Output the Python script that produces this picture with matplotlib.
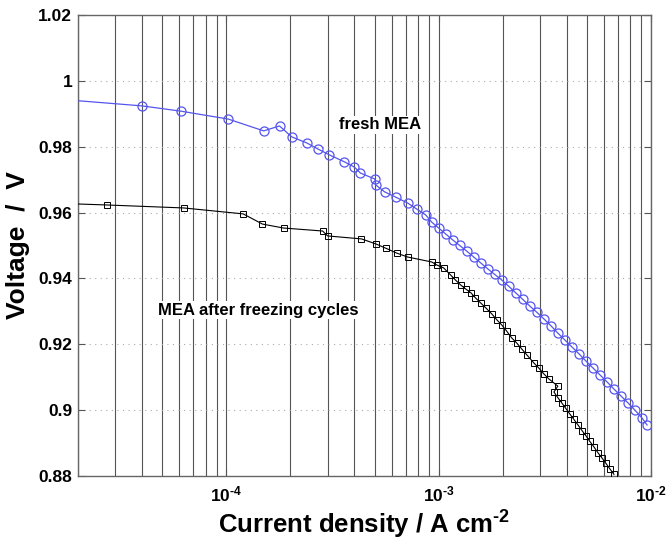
import numpy as np
import matplotlib
matplotlib.use("Agg")
import matplotlib.pyplot as plt
from matplotlib.ticker import FixedLocator, FuncFormatter, LogLocator, NullFormatter

plt.rcParams['font.family'] = ['Liberation Sans', 'DejaVu Sans']
plt.rcParams['mathtext.fontset'] = 'custom'
plt.rcParams['mathtext.rm'] = 'Liberation Sans:bold'
plt.rcParams['mathtext.bf'] = 'Liberation Sans:bold'

# fresh MEA (blue circles)
fresh_j = [1.8e-5, 4.0e-5, 6.1e-5, 1.02e-4, 1.5e-4, 1.78e-4, 2.03e-4, 2.4e-4, 2.7e-4, 3.06e-4,
           3.6e-4, 4.01e-4, 4.28e-4, 5.0e-4, 5.05e-4, 5.56e-4, 6.27e-4, 7.14e-4, 7.87e-4, 8.68e-4, 9.27e-4,
           1.000e-3, 1.079e-3, 1.164e-3, 1.256e-3, 1.355e-3, 1.462e-3, 1.578e-3, 1.703e-3, 1.837e-3,
           1.982e-3, 2.139e-3, 2.308e-3, 2.491e-3, 2.688e-3, 2.900e-3, 3.13e-3, 3.38e-3, 3.64e-3,
           3.93e-3, 4.24e-3, 4.58e-3, 4.94e-3, 5.33e-3, 5.75e-3, 6.20e-3, 6.69e-3, 7.22e-3, 7.79e-3,
           8.40e-3, 9.07e-3, 9.58e-3]
fresh_v = [0.9942, 0.9924, 0.9908, 0.9884, 0.9848, 0.9863, 0.9830, 0.9811, 0.9793, 0.9775,
           0.9754, 0.9738, 0.9720, 0.9702, 0.9684, 0.9663, 0.9647, 0.9629, 0.9611, 0.9593, 0.9571,
           0.9553, 0.9535, 0.9517, 0.9500, 0.9483, 0.9465, 0.9447, 0.9429, 0.9412,
           0.9395, 0.9376, 0.9356, 0.9336, 0.9316, 0.9297, 0.9277, 0.9256, 0.9234,
           0.9213, 0.9192, 0.9171, 0.9149, 0.9128, 0.9107, 0.9086, 0.9064, 0.9043, 0.9022,
           0.9000, 0.8976, 0.8955]

# MEA after freezing cycles (black squares)
frozen_j = [1.8e-5, 2.75e-5, 6.3e-5, 1.2e-4, 1.48e-4, 1.86e-4, 2.84e-4, 3.0e-4,
            4.33e-4, 5.05e-4, 5.62e-4, 6.34e-4, 7.14e-4, 9.27e-4, 9.78e-4,
            1.055e-3, 1.14e-3, 1.20e-3, 1.27e-3, 1.34e-3, 1.42e-3, 1.49e-3, 1.58e-3, 1.67e-3,
            1.78e-3, 1.88e-3, 1.98e-3, 2.09e-3, 2.21e-3, 2.33e-3, 2.46e-3, 2.60e-3, 2.81e-3,
            2.96e-3, 3.13e-3, 3.30e-3, 3.64e-3,
            3.49e-3, 3.64e-3, 3.80e-3, 3.97e-3, 4.15e-3, 4.33e-3, 4.53e-3, 4.73e-3, 4.94e-3,
            5.15e-3, 5.39e-3, 5.62e-3, 5.87e-3, 6.14e-3, 6.41e-3, 6.69e-3]
frozen_v = [0.9627, 0.9623, 0.9614, 0.9596, 0.9565, 0.9553, 0.9544, 0.9529,
            0.9520, 0.9505, 0.9492, 0.9477, 0.9465, 0.9450, 0.9441,
            0.9432, 0.9410, 0.9395, 0.9380, 0.9368, 0.9356, 0.9341, 0.9325, 0.9310,
            0.9292, 0.9274, 0.9259, 0.9240, 0.9219, 0.9204, 0.9186, 0.9168, 0.9143,
            0.9128, 0.9110, 0.9095, 0.9073,
            0.9055, 0.9038, 0.9022, 0.9005, 0.8988, 0.8972, 0.8955, 0.8938, 0.8922,
            0.8905, 0.8888, 0.8871, 0.8855, 0.8838, 0.8821, 0.8805]

y_ticks = [0.88, 0.9, 0.92, 0.94, 0.96, 0.98, 1.0, 1.02]

fig = plt.figure(figsize=(6.66, 5.43), dpi=100)
ax = fig.add_axes([0.117, 0.1234, 0.8605, 0.849])

ax.plot(fresh_j, fresh_v, color='#5555ee', lw=0.9, marker='o', ms=6.5,
        mfc='none', mec='#5555ee', mew=0.9, zorder=3)
ax.plot(frozen_j, frozen_v, color='black', lw=0.8, marker='s', ms=4.5,
        mfc='none', mec='black', mew=0.7, zorder=3)

ax.set_xscale('log')
ax.set_xlim(2e-5, 1e-2)
ax.set_ylim(0.88, 1.02)

ax.xaxis.set_major_locator(FixedLocator([1e-4, 1e-3, 1e-2]))
ax.xaxis.set_minor_locator(LogLocator(base=10, subs=np.arange(2, 10), numticks=20))
ax.xaxis.set_minor_formatter(NullFormatter())
ax.xaxis.set_major_formatter(
    FuncFormatter(lambda v, p: r'$\mathbf{10^{\text{-}%d}}$' % abs(round(np.log10(v)))))
ax.yaxis.set_major_locator(FixedLocator(y_ticks))
ax.yaxis.set_major_formatter(FuncFormatter(lambda v, p: '%g' % round(v, 2)))

ax.grid(True, axis='x', which='both', color='#555555', lw=0.8, ls='-')
ax.grid(True, axis='y', which='major', color='#aaaaaa', lw=0.8, ls=(0, (1, 4)))
ax.set_axisbelow(True)

ax.tick_params(which='both', direction='in', top=True, right=True, color='#555555')
ax.tick_params(which='major', length=5, labelsize=12.5)
ax.tick_params(axis='y', which='major', pad=4)
ax.tick_params(axis='x', which='major', pad=6)
ax.tick_params(which='minor', length=3)
for lab in ax.get_yticklabels():
    lab.set_fontweight('bold')
for sp in ax.spines.values():
    sp.set_color('#666666')
    sp.set_linewidth(1.0)

ax.set_xlabel(r'Current density / A cm$^{\text{-}2}$', fontsize=18.5, fontweight='bold', labelpad=2)
ax.set_ylabel('Voltage  /  V', fontsize=19, fontweight='bold', labelpad=6)

ax.text(5.27e-4, 0.9866, 'fresh MEA', ha='center', va='center', fontsize=12, fontweight='bold',
        bbox=dict(facecolor='white', edgecolor='none', pad=1), zorder=2)
ax.text(1.42e-4, 0.9304, 'MEA after freezing cycles', ha='center', va='center', fontsize=12,
        fontweight='bold', bbox=dict(facecolor='white', edgecolor='none', pad=1), zorder=2)

fig.savefig('out.png', dpi=100)
